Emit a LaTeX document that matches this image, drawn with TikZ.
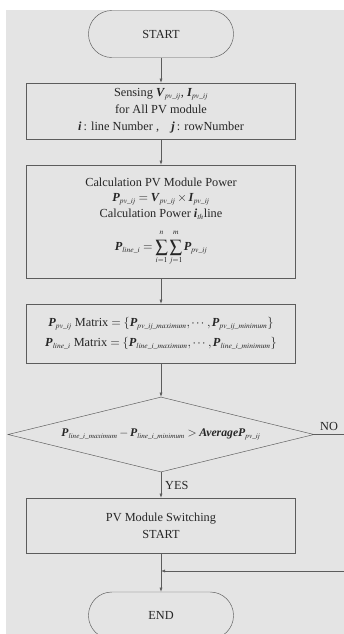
\documentclass[tikz,border=0pt]{standalone}
\usepackage{amsmath,amssymb}
\usepackage{mathptmx}
\usepackage{fontspec}
\setmainfont{Liberation Serif}
\usepackage{xcolor}
\usetikzlibrary{arrows.meta,shapes.geometric}
\definecolor{bgGray}{HTML}{E4E4E4}
\definecolor{lineGray}{HTML}{5C5C5C}
\DeclareMathSizes{10.5}{10.5}{6.5}{5}
\DeclareMathSizes{10}{10}{6.2}{5}
\newcommand{\bi}[1]{\textbf{\textit{#1}}}
\newcommand{\pvij}{\mathit{pv\_ij}}
\newcommand{\uplim}[1]{\raisebox{2.5pt}{$\scriptstyle #1$}}

\begin{document}
\begin{tikzpicture}[x=0.03cm,y=-0.03cm,
    every node/.style={text=black!85,font=\fontsize{10.5}{14.5}\selectfont},
    flowbox/.style={draw=lineGray,minimum width=8.07cm,align=center,inner sep=2pt},
    terminal/.style={draw=lineGray,rounded corners=0.7cm,minimum width=4.35cm,minimum height=1.41cm},
    decision/.style={draw=lineGray,diamond,minimum width=9.18cm,minimum height=2.25cm,shape aspect=4.08,inner sep=0pt},
    arr/.style={draw=lineGray,-{Latex[length=3.5pt,width=2.5pt]}}]
  \useasboundingbox (0,0) rectangle (344,634);
  \fill[bgGray] (6,10) rectangle (344,634);
  \node[terminal] (start) at (161,34) {START};
  \node[flowbox,minimum height=1.68cm] (sense) at (161,111)
    {Sensing $\bi{V}_{\pvij}$, $\bi{I}_{\pvij}$\\
     for All PV module\\
     $\bi{i}$\,: line Number ,\quad $\bi{j}$\,: rowNumber};
  \node[flowbox,minimum height=3.39cm,font=\fontsize{10.5}{13.5}\selectfont] (calc) at (161,221.5)
    {Calculation PV Module Power\\
     $\bi{P}_{\pvij}=\bi{V}_{\pvij}\times\bi{I}_{\pvij}$\\
     Calculation Power $\bi{i}_{\mathit{th}}$line\\[8pt]
     $\displaystyle\bi{P}_{\mathit{line\_i}}=\sum_{i=1}^{\uplim{n}}\sum_{j=1}^{\uplim{m}}\bi{P}_{\pvij}$};
  \node[flowbox,minimum height=1.77cm] (matrix) at (161,333.5)
    {$\bi{P}_{\pvij}$ Matrix $=\{\bi{P}_{\mathit{pv\_ij\_maximum}},\cdots,\bi{P}_{\mathit{pv\_ij\_minimum}}\}$\\[2pt]
     $\bi{P}_{\mathit{line\_i}}$ Matrix $=\{\bi{P}_{\mathit{line\_i\_maximum}},\cdots,\bi{P}_{\mathit{line\_i\_minimum}}\}$};
  \node[decision,font=\fontsize{10}{12}\selectfont] (cond) at (161,434.5)
    {$\bi{P}_{\mathit{line\_i\_maximum}}-\bi{P}_{\mathit{line\_i\_minimum}} > \bi{Average}\bi{P}_{\pvij}$};
  \node[flowbox,minimum height=1.65cm] (switch) at (161,525.5)
    {PV Module Switching\\ START};
  \node[terminal] (finish) at (161,615.5) {END};
  \coordinate (noEnd) at (344,434.5);
  \coordinate (loopIn) at (344,571);
  \coordinate (merge) at (161,571);
  \draw[arr] (start) -- (sense);
  \draw[arr] (sense) -- (calc);
  \draw[arr] (calc) -- (matrix);
  \draw[arr] (matrix) -- (cond);
  \draw[arr] (cond) -- node[right] {YES} (switch);
  \draw[draw=lineGray] (cond) -- node[above] {NO} (noEnd);
  \draw[arr] (loopIn) -- (merge);
  \draw[arr] (switch) -- (finish);
\end{tikzpicture}
\end{document}
